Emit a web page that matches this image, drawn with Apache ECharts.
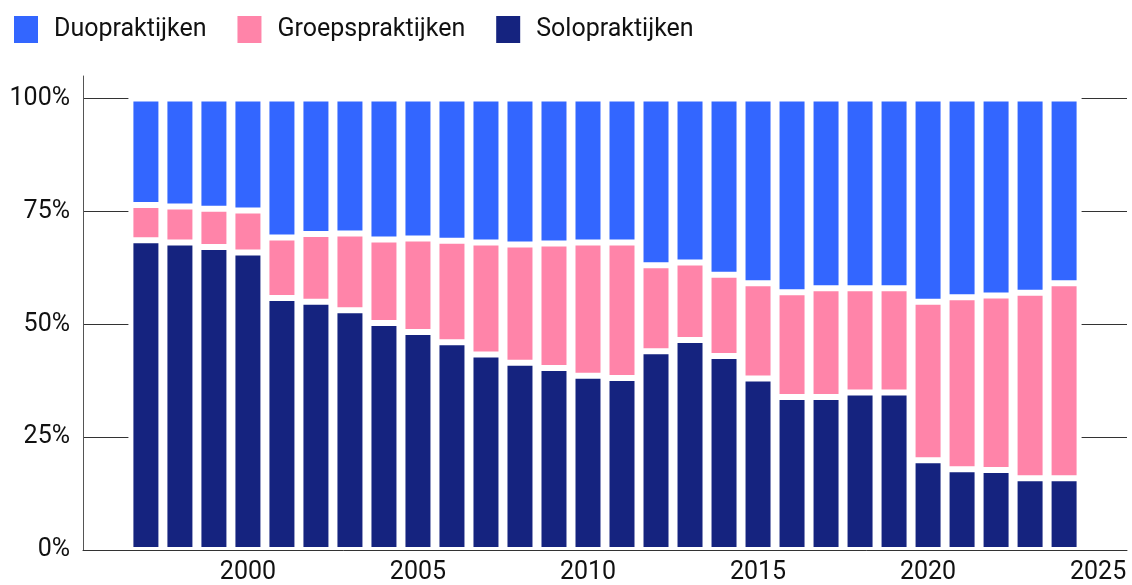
<!DOCTYPE html>
<html>
<head>
<meta charset="utf-8">
<script src="https://cdn.jsdelivr.net/npm/echarts@6/dist/echarts.min.js"></script>
<style>
html,body{margin:0;padding:0;background:#fff;}
#chart{width:1132px;height:585px;}
</style>
</head>
<body>
<div id="chart"></div>
<script>
const years = [1997,1998,1999,2000,2001,2002,2003,2004,2005,2006,2007,2008,2009,2010,2011,2012,2013,2014,2015,2016,2017,2018,2019,2020,2021,2022,2023,2024];
const solo  = [68.6,68.1,67.1,65.9,55.8,55.0,53.1,50.3,48.3,46.0,43.3,41.5,40.3,38.6,38.1,44.0,46.5,43.0,38.0,33.9,33.9,34.9,34.9,19.9,17.9,17.7,15.9,15.9];
const groep = [7.8,8.0,8.5,9.3,13.4,15.0,17.0,18.5,20.7,22.5,24.8,26.2,27.6,29.5,30.0,19.1,17.2,18.0,21.1,23.2,24.1,23.1,23.1,35.1,38.1,38.7,41.1,43.2];
const duo   = [23.6,23.9,24.4,24.8,30.8,30.0,29.9,31.2,31.0,31.5,31.9,32.3,32.1,31.9,31.9,36.9,36.3,39.0,40.9,42.9,42.0,42.0,42.0,45.0,44.0,43.6,43.0,40.9];
const xTicks = [2000,2005,2010,2015,2020,2025];
const yTicks = [0,25,50,75,100];
const seriesNames = ['Duopraktijken','Groepspraktijken','Solopraktijken'];
const colors = {Duopraktijken:'#3366ff', Groepspraktijken:'#ff84a9', Solopraktijken:'#15237f'};

const font = 'Roboto';
function mk(name, vals, bg){
  const s = {
    name: name, type: 'bar', stack: 'total',
    barWidth: 31,
    // value first so that the value dimension is the stacked one
    data: years.map((y,i)=>[vals[i], y]),
    encode: {x: 1, y: 0},
    itemStyle: {color: colors[name], borderColor: '#ffffff', borderWidth: 3},
    emphasis: {disabled: true}
  };
  if (bg) {
    s.showBackground = true;
    s.backgroundStyle = {color: '#ffffff', borderColor: '#ffffff', borderWidth: 4};
  }
  return s;
}
const chart = echarts.init(document.getElementById('chart'), null, {renderer:'canvas'});
chart.setOption({
  animation: false,
  backgroundColor: '#ffffff',
  legend: {
    data: seriesNames,
    left: 12, top: 14, padding: 0,
    icon: 'rect', itemWidth: 26, itemHeight: 29, itemGap: 29,
    textStyle: {fontFamily: font, fontSize: 25, color: '#111', padding: [4,0,0,10]}
  },
  grid: {left: 83, right: 5, top: 76, bottom: 34, containLabel: false},
  xAxis: {
    type: 'value', min: 1995.15, max: 2025.85, z: 3,
    axisLine: {show: true, lineStyle: {color: '#333', width: 1}},
    axisTick: {show: false},
    splitLine: {show: false},
    axisLabel: {customValues: xTicks, fontFamily: font, fontSize: 25, color: '#111', margin: 10,
      formatter: v => String(v)}
  },
  yAxis: {
    type: 'value', min: 0, max: 105,
    axisLine: {show: true, lineStyle: {color: '#555', width: 1}},
    axisTick: {show: false, customValues: yTicks},
    splitLine: {show: true, lineStyle: {color: '#333', width: 1}},
    axisLabel: {customValues: yTicks, fontFamily: font, fontSize: 25, color: '#111', margin: 13,
      formatter: v => v + '%'}
  },
  series: [mk('Solopraktijken', solo, true), mk('Groepspraktijken', groep, false), mk('Duopraktijken', duo, false)]
});
</script>
</body>
</html>
